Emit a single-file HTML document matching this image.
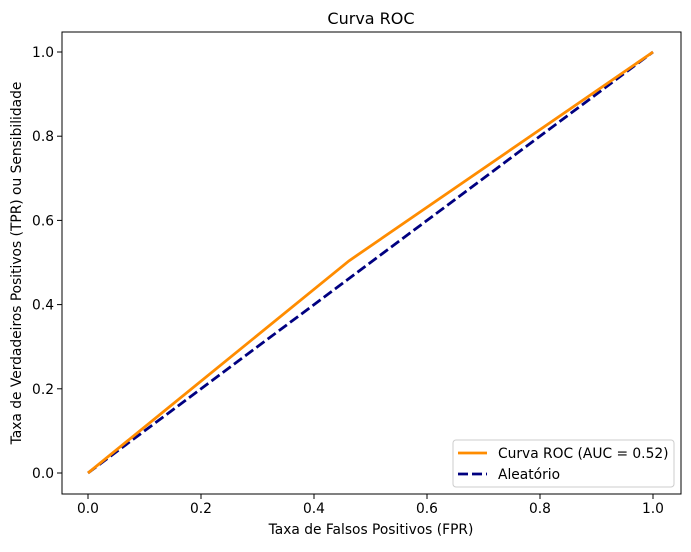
<!DOCTYPE html>
<html><head><meta charset="utf-8"><style>
body{margin:0;background:#fff;}
svg text{font-family:"DejaVu Sans","Liberation Sans",sans-serif;fill:#000;}
</style></head><body>
<svg width="691" height="547" viewBox="0 0 691 547">
<rect x="0" y="0" width="691" height="547" fill="#fff"/>
<g id="plot"></g>
<text x="371" y="24" font-size="16" text-anchor="middle">Curva ROC</text>
<text x="371" y="534" font-size="13.8" text-anchor="middle">Taxa de Falsos Positivos (FPR)</text>
<text transform="translate(21,263) rotate(-90)" font-size="13.8" text-anchor="middle">Taxa de Verdadeiros Positivos (TPR) ou Sensibilidade</text>
<g>
<rect x="453" y="440" width="221" height="47" rx="3" fill="#fff" stroke="#ccc"/>
<line x1="458" y1="453" x2="487" y2="453" stroke="#ff8c00" stroke-width="2.8"/>
<text x="498" y="458" font-size="13.8">Curva ROC (AUC = 0.52)</text>
<line x1="458" y1="474" x2="487" y2="474" stroke="#000080" stroke-width="2.8" stroke-dasharray="10,4"/>
<text x="498" y="479" font-size="13.8">Aleatório</text>
</g>
</svg>
<script>
const fpr=[0,0.462,1];
const tpr=[0,0.504,1];
const diagX=[0,1];
const diagY=[0,1];
const ticks=[0,0.2,0.4,0.6,0.8,1.0];
const tickLabels=["0.0","0.2","0.4","0.6","0.8","1.0"];
const L=62,R=681,T=32,B=494;
const sx=v=>88+v*565;
const sy=v=>473-v*421;
const NS="http://www.w3.org/2000/svg";
const g=document.getElementById('plot');
function mk(t,a){const e=document.createElementNS(NS,t);for(const k in a)e.setAttribute(k,a[k]);g.appendChild(e);return e;}
function pts(xs,ys){return xs.map((x,i)=>sx(x)+','+sy(ys[i])).join(' ');}
let d=mk('polyline',{points:pts(diagX,diagY),fill:'none',stroke:'#000080','stroke-width':2.8,'stroke-dasharray':'10,4'});


let r=mk('polyline',{points:pts(fpr,tpr),fill:'none',stroke:'#ff8c00','stroke-width':2.8});


let f=mk('rect',{x:L,y:T,width:R-L,height:B-T,fill:'none',stroke:'#000','stroke-width':1});


ticks.forEach((t,i)=>{
 let a=mk('line',{x1:sx(t),x2:sx(t),y1:B,y2:B+5,stroke:'#000'});
 
 
 let at=mk('text',{x:sx(t),y:B+19,'font-size':13.8,'text-anchor':'middle'});at.textContent=tickLabels[i];
 
 
 let b=mk('line',{x1:L-5,x2:L,y1:sy(t),y2:sy(t),stroke:'#000'});
 
 
 let bt=mk('text',{x:L-8,y:sy(t)+5,'font-size':13.8,'text-anchor':'end'});bt.textContent=tickLabels[i];
 
 
});
</script>
</body></html>
